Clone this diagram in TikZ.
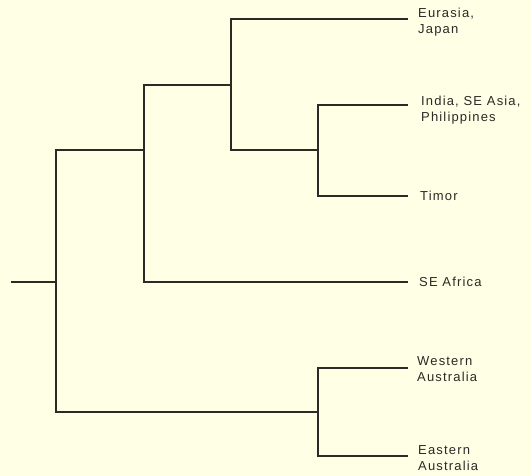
\documentclass[tikz,border=0pt]{standalone}
\usepackage{fontspec}
\setmainfont{Liberation Sans}[LetterSpace=9]
\definecolor{bgc}{HTML}{FFFFE6}
\definecolor{inkc}{HTML}{2A2A26}
\begin{document}
\begin{tikzpicture}[x=1pt,y=-1pt,
  branch/.style={draw=inkc,line width=1.8pt,line join=miter},
  leaflabel/.style={inner sep=0pt,text=inkc,anchor=base west,
    font=\fontsize{13}{16}\selectfont}]
\fill[bgc] (0,0) rectangle (531,476);
\useasboundingbox (0,0) rectangle (531,476);
% internal nodes
\coordinate (r0) at (11,282);
\coordinate (n1) at (56,282);
\coordinate (n2) at (144,150);
\coordinate (n3) at (231,85);
\coordinate (n4) at (318,150);
\coordinate (n5) at (318,412);
% leaf ends
\coordinate (e1) at (408,19);
\coordinate (e2) at (408,105);
\coordinate (e3) at (408,196);
\coordinate (e4) at (408,282);
\coordinate (e5) at (408,368);
\coordinate (e6) at (408,456);
% branches
\draw[branch] (r0) -- (n1);
\draw[branch] (n1) |- (n2);
\draw[branch] (n1) |- (n5);
\draw[branch] (n2) |- (n3);
\draw[branch] (n2) |- (e4);
\draw[branch] (n3) |- (e1);
\draw[branch] (n3) |- (n4);
\draw[branch] (n4) |- (e2);
\draw[branch] (n4) |- (e3);
\draw[branch] (n5) |- (e5);
\draw[branch] (n5) |- (e6);
% labels
\node[leaflabel] (l1) at (418,17.3) {\vtop{\hbox{Eurasia,}\hbox{Japan}}};
\node[leaflabel] (l2) at (421,105.5) {\vtop{\hbox{India, SE Asia,}\hbox{Philippines}}};
\node[leaflabel] (l3) at (420,200.3) {Timor};
\node[leaflabel] (l4) at (419,286.7) {SE Africa};
\node[leaflabel] (l5) at (417,365.5) {\vtop{\hbox{Western}\hbox{Australia}}};
\node[leaflabel] (l6) at (418,454.3) {\vtop{\hbox{Eastern}\hbox{Australia}}};
\end{tikzpicture}
\end{document}
